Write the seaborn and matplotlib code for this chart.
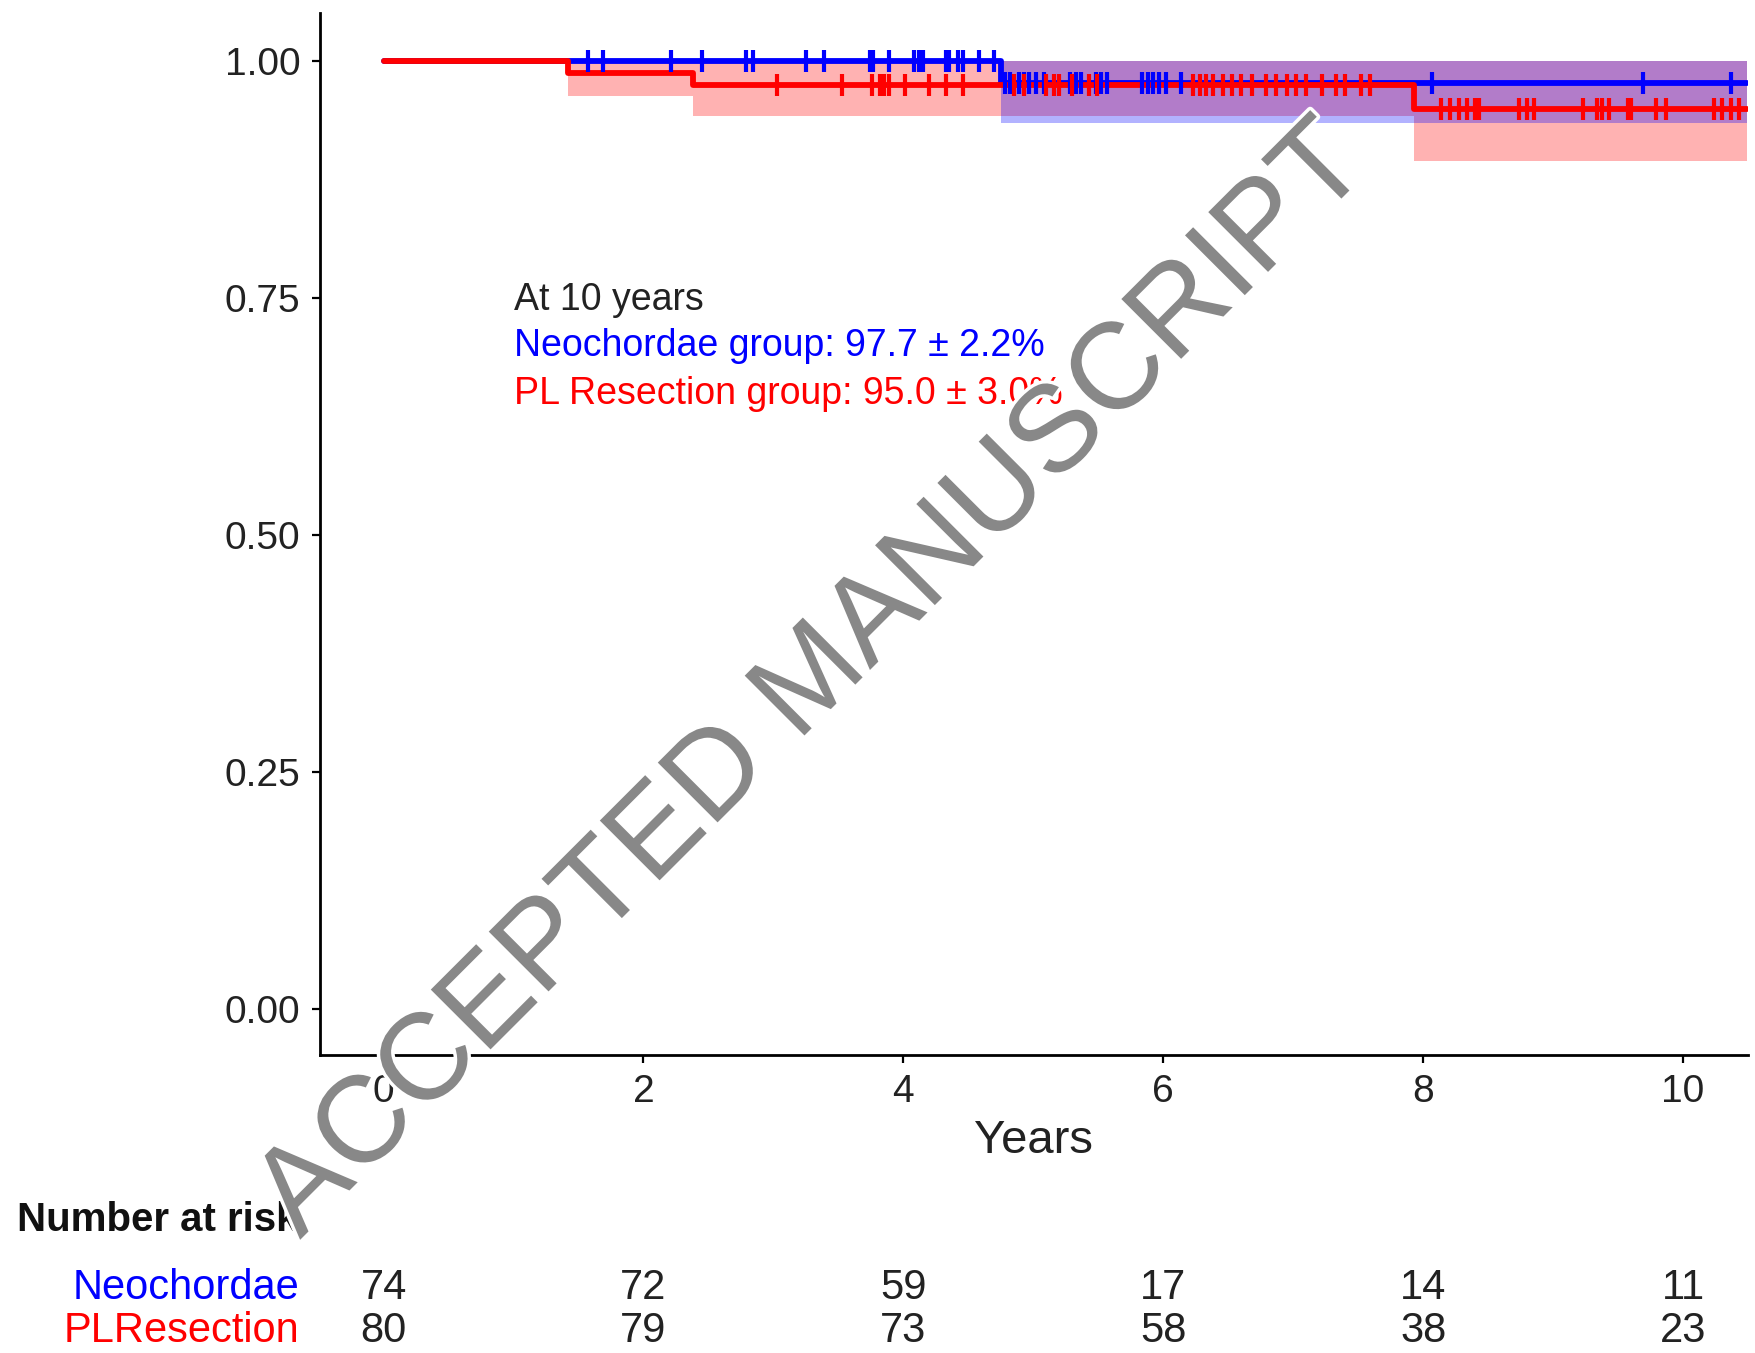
import numpy as np
import pandas as pd
import matplotlib
matplotlib.use("Agg")
import matplotlib.pyplot as plt
import matplotlib.patheffects as pe
from matplotlib.transforms import blended_transform_factory
import seaborn as sns

# ---------------- data ----------------
groups = ["Neochordae", "PLResection"]
colors = {"Neochordae": "#0000FF", "PLResection": "#FF0000"}

neo_times = [0.0, 4.75, 10.49]
neo_surv = [1.0, 0.977, 0.977]
neo_lower = [1.0, 0.935, 0.935]
neo_upper = [1.0, 1.0, 1.0]

pl_times = [0.0, 1.42, 2.38, 7.93, 10.49]
pl_surv = [1.0, 0.9875, 0.975, 0.950, 0.950]
pl_lower = [1.0, 0.963, 0.942, 0.895, 0.895]
pl_upper = [1.0, 1.0, 1.0, 1.0, 1.0]

neo_censor = [1.57, 1.69, 2.21, 2.45, 2.79, 2.84, 3.25, 3.39, 3.74, 3.77, 3.89,
              4.08, 4.12, 4.15, 4.33, 4.35, 4.42, 4.46, 4.58, 4.70,
              4.78, 4.82, 4.89, 4.93, 4.97, 5.02, 5.08, 5.28, 5.33, 5.37,
              5.48, 5.52, 5.57, 5.84, 5.88, 5.92, 5.97, 6.02, 6.14,
              8.07, 9.69, 10.37]
pl_censor = [3.03, 3.53, 3.76, 3.82, 3.85, 3.89, 4.01, 4.20, 4.33, 4.46,
             4.85, 4.93, 5.10, 5.16, 5.20, 5.30, 5.43, 5.49,
             6.23, 6.28, 6.33, 6.38, 6.46, 6.53, 6.60, 6.68, 6.79, 6.87,
             6.95, 7.02, 7.10, 7.22, 7.33, 7.40, 7.52, 7.59,
             8.14, 8.21, 8.28, 8.34, 8.40, 8.43, 8.74, 8.80, 8.85,
             9.23, 9.34, 9.38, 9.43, 9.58, 9.60, 9.79, 9.87,
             10.24, 10.30, 10.37, 10.43]

risk_times = [0, 2, 4, 6, 8, 10]
risk_neo = [74, 72, 59, 17, 14, 11]
risk_pl = [80, 79, 73, 58, 38, 23]

x_ticks = [0, 2, 4, 6, 8, 10]
y_ticks = [0.00, 0.25, 0.50, 0.75, 1.00]

annot_title = "At 10 years"
annot_neo = "Neochordae group: 97.7 \u00b1 2.2%"
annot_pl = "PL Resection group: 95.0 \u00b1 3.0%"

# ---------------- build tables ----------------
curves = pd.concat([
    pd.DataFrame({"time": neo_times, "surv": neo_surv, "lower": neo_lower,
                  "upper": neo_upper, "group": "Neochordae"}),
    pd.DataFrame({"time": pl_times, "surv": pl_surv, "lower": pl_lower,
                  "upper": pl_upper, "group": "PLResection"}),
], ignore_index=True)


def step_value(times, vals, t):
    idx = np.searchsorted(np.asarray(times), t, side="right") - 1
    return np.asarray(vals)[idx]


cens = pd.concat([
    pd.DataFrame({"time": neo_censor,
                  "surv": step_value(neo_times, neo_surv, np.array(neo_censor)),
                  "group": "Neochordae"}),
    pd.DataFrame({"time": pl_censor,
                  "surv": step_value(pl_times, pl_surv, np.array(pl_censor)),
                  "group": "PLResection"}),
], ignore_index=True)

# ---------------- figure ----------------
sns.set_theme(style="ticks")
plt.rcParams["font.family"] = ["Liberation Sans", "DejaVu Sans"]

fig = plt.figure(figsize=(17.56, 13.53), dpi=100)
ax = fig.add_axes([0.1822, 0.2203, 0.8132, 0.7701])

# confidence bands
for g in ["PLResection", "Neochordae"]:
    d = curves[curves.group == g]
    ax.fill_between(d.time, d.lower, d.upper, step="post",
                    color=colors[g], alpha=0.3, linewidth=0, zorder=1)

# survival steps
for g in ["Neochordae", "PLResection"]:
    d = curves[curves.group == g]
    sns.lineplot(data=d, x="time", y="surv", ax=ax, color=colors[g],
                 drawstyle="steps-post", linewidth=4.2, estimator=None,
                 sort=False, legend=False, zorder=3)

# censor marks
for g in ["Neochordae", "PLResection"]:
    d = cens[cens.group == g]
    sns.scatterplot(data=d, x="time", y="surv", ax=ax, marker="|",
                    s=230, linewidth=3.0, color=colors[g], legend=False,
                    zorder=4)

ax.set_xlim(-0.49, 10.5)
ax.set_ylim(-0.049, 1.051)
ax.set_xticks(x_ticks)
ax.set_xticklabels([str(t) for t in x_ticks])
ax.set_yticks(y_ticks)
ax.set_yticklabels([f"{v:.2f}" for v in y_ticks])
ax.tick_params(axis="both", labelsize=28, length=6, width=1.6,
               color="black", labelcolor="#222222", pad=8)
for s in ["top", "right"]:
    ax.spines[s].set_visible(False)
for s in ["left", "bottom"]:
    ax.spines[s].set_linewidth(2.0)
    ax.spines[s].set_color("black")
ax.set_xlabel("Years", fontsize=34, color="#222222", labelpad=6)
ax.set_ylabel("")

# annotation
ax.text(1.0, 0.748, annot_title, fontsize=27, color="#222222", va="center", ha="left")
ax.text(1.0, 0.699, annot_neo, fontsize=27, color=colors["Neochordae"], va="center", ha="left")
ax.text(1.0, 0.649, annot_pl, fontsize=27, color=colors["PLResection"], va="center", ha="left")

# risk table
tr = blended_transform_factory(ax.transData, fig.transFigure)
fig.text(0.0097, 0.0983, "Number at risk", fontsize=29, fontweight="bold",
         color="#111111", ha="left", va="center")
fig.text(0.1703, 0.0480, "Neochordae", fontsize=30, color=colors["Neochordae"],
         ha="right", va="center")
fig.text(0.1703, 0.0163, "PLResection", fontsize=30, color=colors["PLResection"],
         ha="right", va="center")
for t, n1, n2 in zip(risk_times, risk_neo, risk_pl):
    ax.text(t, 0.0480, str(n1), transform=tr, fontsize=30, color="#222222",
            ha="center", va="center", clip_on=False)
    ax.text(t, 0.0163, str(n2), transform=tr, fontsize=30, color="#222222",
            ha="center", va="center", clip_on=False)

# watermark
fig.text(0.1708, 0.0835, "ACCEPTED MANUSCRIPT", fontsize=88.5, color="#888888",
         rotation=45, ha="left", va="baseline", rotation_mode="anchor",
         zorder=20,
         path_effects=[pe.withStroke(linewidth=5, foreground="white")])

fig.savefig("out.png", dpi=100)
